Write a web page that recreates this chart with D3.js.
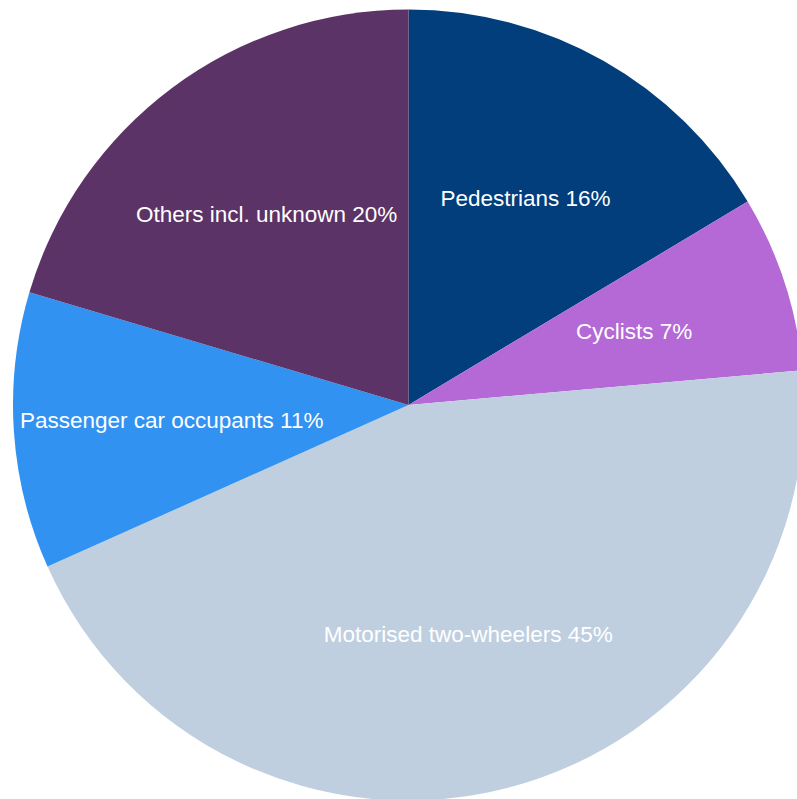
<!DOCTYPE html>
<html>
<head>
<meta charset="utf-8">
<script src="https://cdn.jsdelivr.net/npm/d3@7"></script>
<style>
  html, body { margin: 0; padding: 0; background: #ffffff; }
  svg { display: block; }
</style>
</head>
<body>
<svg id="chart" width="797" height="799"></svg>
<script>
// Road deaths by user type (share of total, %)
const categories = [
  "Pedestrians",
  "Cyclists",
  "Motorised two-wheelers",
  "Passenger car occupants",
  "Others incl. unknown"
];
const shares = [16.4, 7.2, 44.7, 11.3, 20.4];
const colors = ["#023e7c", "#b469d6", "#bfcfe0", "#3192f1", "#5c3366"];

const width = 797, height = 799;
const cx = 408.5, cy = 405, radius = 395.5;

const data = categories.map((c, i) => ({ name: c, value: shares[i], color: colors[i] }));

const svg = d3.select("#chart");
const g = svg.append("g").attr("transform", `translate(${cx},${cy})`);

const pie = d3.pie().sort(null).value(d => d.value).startAngle(0).endAngle(2 * Math.PI);
const arcs = pie(data);

const arc = d3.arc().innerRadius(0).outerRadius(radius);
const labelArc = d3.arc().innerRadius(radius * 0.6).outerRadius(radius * 0.6);

g.selectAll("path.slice")
  .data(arcs)
  .join("path")
  .attr("class", "slice")
  .attr("d", arc)
  .attr("fill", d => d.data.color);

g.selectAll("text.label")
  .data(arcs)
  .join("text")
  .attr("class", "label")
  .attr("transform", d => `translate(${labelArc.centroid(d)})`)
  .attr("text-anchor", "middle")
  .attr("dominant-baseline", "central")
  .attr("font-family", "'Liberation Sans', Arial, sans-serif")
  .attr("font-size", 22.5)
  .attr("fill", "#ffffff")
  .text(d => `${d.data.name} ${Math.round(d.data.value)}%`);
</script>
</body>
</html>
